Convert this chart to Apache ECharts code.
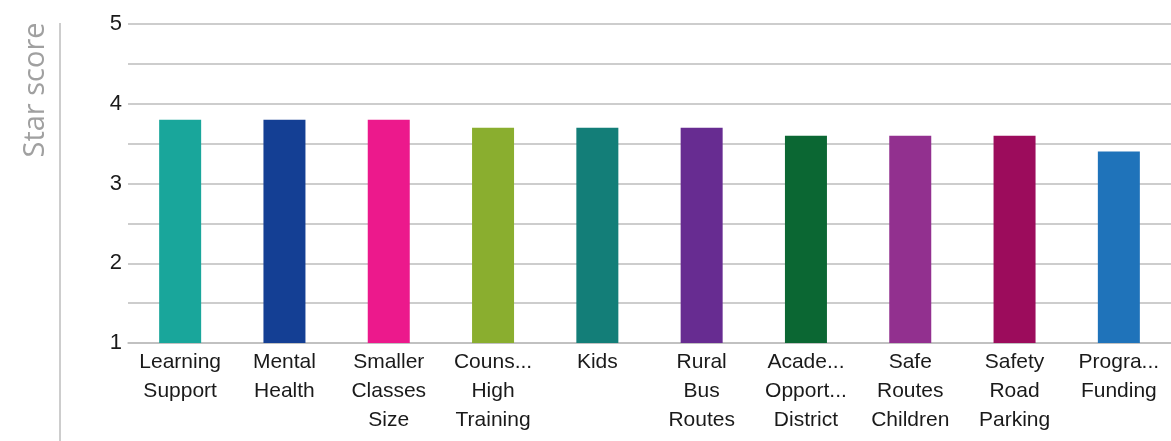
<!DOCTYPE html>
<html><head><meta charset="utf-8">
<script src="https://cdn.jsdelivr.net/npm/echarts@6/dist/echarts.min.js"></script>
<style>html,body{margin:0;padding:0;background:#fff}#c{width:1171px;height:441px}</style>
</head><body><div id="c"></div>
<script>
const categories = ["Learning\nSupport","Mental\nHealth","Smaller\nClasses\nSize","Couns...\nHigh\nTraining","Kids","Rural\nBus\nRoutes","Acade...\nOpport...\nDistrict","Safe\nRoutes\nChildren","Safety\nRoad\nParking","Progra...\nFunding"];
const values = [3.8,3.8,3.8,3.7,3.7,3.7,3.6,3.6,3.6,3.4];
const colors = ["#19A69B","#143F94","#EC198C","#8AAE2F","#137E78","#672C91","#0B6733","#92308F","#9C0C5C","#1F73BA"];
const yTicks = [1,2,3,4,5];
const chart = echarts.init(document.getElementById('c'));
chart.setOption({
  animation:false,
  grid:{left:128,top:24,width:1050,height:319,containLabel:false},
  graphic:[
    {type:'line',shape:{x1:60,y1:23,x2:60,y2:441},style:{stroke:'#bdbdbd',lineWidth:1.5}},
    {type:'text',x:36,y:90,rotation:Math.PI/2,style:{text:'Star score',fill:'#a0a0a0',font:'29px "Open Sans", "Liberation Sans", sans-serif',align:'center',verticalAlign:'middle'}}
  ],
  xAxis:{type:'category',data:categories,
    axisLine:{lineStyle:{color:'#bdbdbd',width:1.5}},axisTick:{show:false},
    axisLabel:{color:'#1a1a1a',fontSize:21,lineHeight:29,margin:5,interval:0,fontFamily:'"Liberation Sans", Arial, sans-serif'}},
  yAxis:{type:'value',min:1,max:5,interval:0.5,
    axisLine:{show:false},axisTick:{show:false},
    splitLine:{lineStyle:{color:'#bdbdbd',width:1.5}},
    axisLabel:{color:'#1a1a1a',fontSize:22,margin:6,fontFamily:'"Liberation Sans", Arial, sans-serif',
      formatter:v=>yTicks.includes(v)?String(v):''}},
  series:[{type:'bar',barWidth:42,
    data:values.map((v,i)=>({value:v,itemStyle:{color:colors[i]}}))}]
});
</script></body></html>
